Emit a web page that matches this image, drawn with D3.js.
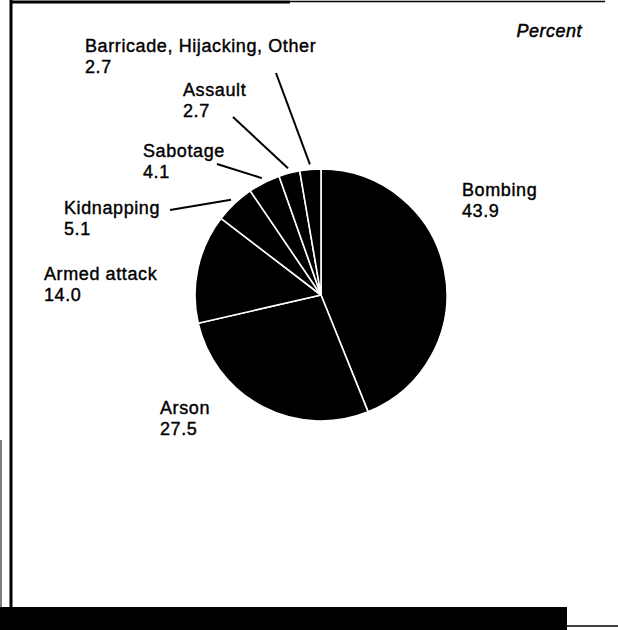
<!DOCTYPE html>
<html>
<head>
<meta charset="utf-8">
<script src="https://cdn.jsdelivr.net/npm/d3@7"></script>
<style>
  body { margin: 0; background: #fff; }
  svg text { font-family: "Liberation Sans", Arial, sans-serif; fill: #000; }
</style>
</head>
<body>
<div id="chart"></div>
<script>
// slices, clockwise from 12 o'clock
const categories = ["Bombing", "Arson", "Armed attack", "Kidnapping", "Sabotage", "Assault", "Barricade, Hijacking, Other"];
const values = [43.9, 27.5, 14.0, 5.1, 4.1, 2.7, 2.7];
const valueLabels = ["43.9", "27.5", "14.0", "5.1", "4.1", "2.7", "2.7"];

const width = 618, height = 630;
const cx = 321, cy = 295, radius = 126;

// where each label sits, and where its leader starts (null = no leader)
const labelPos = {
    "Bombing": {x: 462, y: 196, lead: null},
    "Arson": {x: 160, y: 414, lead: null},
    "Armed attack": {x: 44, y: 280, lead: null},
    "Kidnapping": {x: 64, y: 214, lead: [170, 210]},
    "Sabotage": {x: 143, y: 157, lead: [217, 164]},
    "Assault": {x: 183, y: 96, lead: [233, 117]},
    "Barricade, Hijacking, Other": {x: 85, y: 52, lead: [276, 73]}
};

const svg = d3.select("#chart").append("svg")
    .attr("width", width)
    .attr("height", height);

svg.append("rect").attr("width", width).attr("height", height).attr("fill", "#fff");

// scan frame
svg.append("line").attr("x1", 10).attr("y1", 2).attr("x2", 290).attr("y2", 2)
    .attr("stroke", "#000").attr("stroke-width", 3);
svg.append("line").attr("x1", 290).attr("y1", 1.5).attr("x2", 605).attr("y2", 1.5)
    .attr("stroke", "#000").attr("stroke-width", 1.5);
svg.append("line").attr("x1", 11).attr("y1", 0).attr("x2", 11).attr("y2", 610)
    .attr("stroke", "#000").attr("stroke-width", 3);
svg.append("line").attr("x1", 1).attr("y1", 440).attr("x2", 1).attr("y2", 610)
    .attr("stroke", "#000").attr("stroke-width", 1);
svg.append("rect").attr("x", 0).attr("y", 607).attr("width", 567).attr("height", 23).attr("fill", "#000");
svg.append("line").attr("x1", 567).attr("y1", 626).attr("x2", 618).attr("y2", 626)
    .attr("stroke", "#000").attr("stroke-width", 1.5);

const data = categories.map((c, i) => ({name: c, value: values[i], label: valueLabels[i]}));

const pie = d3.pie().value(d => d.value).sort(null);
const arcs = pie(data);

const arc = d3.arc().innerRadius(0).outerRadius(radius);
const leadArc = d3.arc().innerRadius(radius + 5).outerRadius(radius + 5);

const g = svg.append("g").attr("transform", "translate(" + cx + "," + cy + ")");

g.selectAll("path")
    .data(arcs)
    .join("path")
    .attr("d", arc)
    .attr("fill", "#000")
    .attr("stroke", "#fff")
    .attr("stroke-width", 1.6)
    .attr("stroke-linejoin", "round");

// leader lines
arcs.forEach(a => {
    const p = labelPos[a.data.name];
    if (!p.lead) return;
    const end = leadArc.centroid(a);
    svg.append("line")
        .attr("x1", p.lead[0]).attr("y1", p.lead[1])
        .attr("x2", cx + end[0]).attr("y2", cy + end[1])
        .attr("stroke", "#000")
        .attr("stroke-width", 2);
});

// labels
const labels = svg.append("g");
arcs.forEach(a => {
    const p = labelPos[a.data.name];
    const t = labels.append("text")
        .attr("x", p.x).attr("y", p.y)
        .style("font-size", "18px")
        .style("letter-spacing", "0.6px")
        .style("stroke", "#000").style("stroke-width", 0.4);
    t.append("tspan").attr("x", p.x).text(a.data.name);
    t.append("tspan").attr("x", p.x).attr("dy", 21).text(a.data.label);
});

svg.append("text")
    .attr("x", 582).attr("y", 37)
    .attr("text-anchor", "end")
    .style("font-size", "18px")
    .style("font-style", "italic")
    .style("letter-spacing", "0.5px")
    .style("stroke", "#000").style("stroke-width", 0.5)
    .text("Percent");
</script>
</body>
</html>
